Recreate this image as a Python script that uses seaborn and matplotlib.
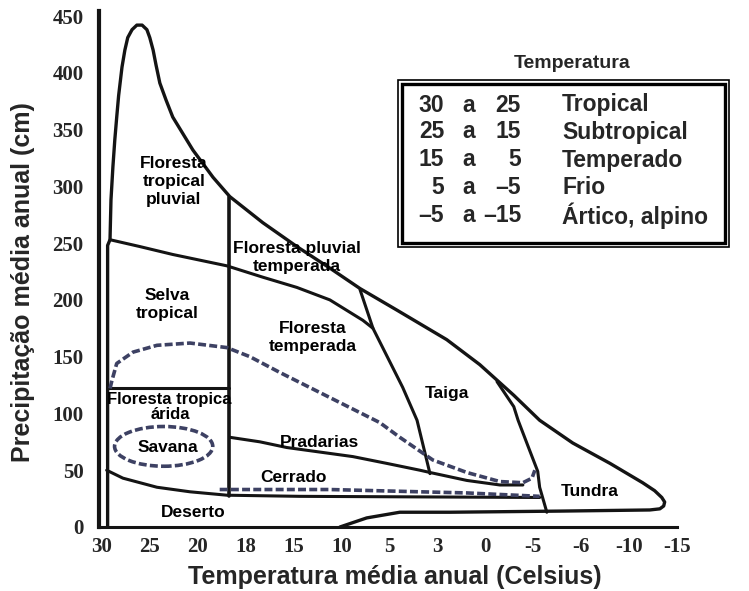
import matplotlib
matplotlib.use("Agg")
import matplotlib.pyplot as plt
from matplotlib.patches import Ellipse, Rectangle
import seaborn as sns

# x positions are category slots (0 -> 30 C ... 12 -> -15 C), y in cm
x_ticklabels = ['30', '25', '20', '18', '15', '10', '5', '3', '0', '-5', '-6', '-10', '-15']
y_ticks = [0, 50, 100, 150, 200, 250, 300, 350, 400, 450]

envelope_x = [0.12, 0.12, 0.17, 0.19, 0.23, 0.27, 0.31, 0.35, 0.42, 0.48, 0.54, 0.63, 0.73,
              0.84, 0.94, 1.00, 1.07, 1.13, 1.21, 1.34, 1.48, 1.90,
              2.32, 2.67, 3.36, 4.07, 4.76, 5.39, 6.16, 7.20, 7.89, 8.60, 9.14, 9.83, 10.61,
              11.29, 11.54, 11.69, 11.75, 11.73, 11.65, 11.44, 9.56, 7.27, 6.22, 5.53, 4.97]
envelope_y = [0, 248, 253, 288, 317, 341, 361, 380, 405, 420, 431, 438, 442,
              442, 438, 431, 420, 407, 391, 376, 361, 332,
              308, 291, 268, 247, 228, 210, 191, 165, 143, 116, 94, 74, 56,
              39, 32, 26, 22, 18.5, 16, 15, 14, 13, 13, 8, 0]

pluvial_x = [0.17, 0.79, 1.48, 2.61, 3.36, 4.07, 4.76, 5.45, 5.66]
pluvial_y = [253, 247, 240, 230, 220, 211, 200, 182, 175]

taiga_x = [5.39, 5.66, 5.97, 6.28, 6.58, 6.85]
taiga_y = [209, 175, 149, 123, 94, 47]

tundra_x = [8.25, 8.60, 8.69, 8.89, 9.10, 9.14, 9.29]
tundra_y = [128, 106, 94, 72, 49, 35, 13]

v18_x = [2.65, 2.65]
v18_y = [291, 27]

arida_x = [0.12, 2.65]
arida_y = [122, 122]

dash_upper_x = [0.17, 0.21, 0.31, 0.65, 1.15, 1.84, 2.61, 3.09, 3.72, 4.76, 5.80, 6.22, 6.91,
                7.62, 8.31, 8.79, 8.98, 9.04]
dash_upper_y = [122, 129, 144, 154, 160, 162, 158, 150, 136, 114, 92, 79, 59,
                48, 40, 39, 43, 50]

pradarias_x = [2.67, 3.30, 3.86, 5.24, 5.95, 6.64, 6.85, 7.62, 8.31, 8.79]
pradarias_y = [79, 75, 70, 62, 56, 50, 48, 41, 37, 37]

cerrado_x = [0.10, 0.44, 1.15, 1.84, 2.61, 4.13, 9.14]
cerrado_y = [50, 43, 35, 31, 28, 27, 26]

dash_lower_x = [2.46, 4.76, 6.64, 7.62, 9.14]
dash_lower_y = [33, 33, 31, 30, 27]

savana_center = (1.29, 71)
savana_size = (2.05, 35)

biome_labels = [
    ("Floresta\ntropical\npluvial", 1.50, 304, 12.5),
    ("Selva\ntropical", 1.36, 196, 12.5),
    ("Floresta tropica", 1.40, 112, 12),
    ("árida", 1.42, 99, 12),
    ("Savana", 1.38, 70, 12.5),
    ("Deserto", 1.90, 13, 12.5),
    ("Floresta pluvial\ntemperada", 4.07, 237, 12.5),
    ("Floresta\ntemperada", 4.40, 167, 12.5),
    ("Taiga", 7.20, 118, 12.5),
    ("Pradarias", 4.55, 74, 12.5),
    ("Cerrado", 3.99, 44, 12.5),
    ("Tundra", 10.19, 31, 12.5),
]

table_from = ['30', '25', '15', '5', '–5']
table_to = ['25', '15', '5', '–5', '–15']
table_names = ['Tropical', 'Subtropical', 'Temperado', 'Frio', 'Ártico, alpino']

sns.set_style("white")
plt.rcParams['font.family'] = ['Liberation Sans', 'DejaVu Sans']

W, H = 749, 591
fig = plt.figure(figsize=(W / 100, H / 100), dpi=100)
ax = fig.add_axes([99 / W, 0.1083, 592 / W, 0.8761])

line_c = '#141414'
dash_c = '#3d4163'

def solid(xs, ys, lw=2.2):
    sns.lineplot(x=xs, y=ys, sort=False, estimator=None, color=line_c, lw=lw, ax=ax)

def dashed(xs, ys):
    sns.lineplot(x=xs, y=ys, sort=False, estimator=None, color=dash_c, lw=2.6,
                 linestyle=(0, (2.2, 0.9)), ax=ax)

solid(envelope_x, envelope_y, 2.4)
solid(pluvial_x, pluvial_y)
solid(taiga_x, taiga_y)
solid(tundra_x, tundra_y)
solid(v18_x, v18_y, 2.6)
solid(arida_x, arida_y)
solid(pradarias_x, pradarias_y)
solid(cerrado_x, cerrado_y)
dashed(dash_upper_x, dash_upper_y)
dashed(dash_lower_x, dash_lower_y)

ax.add_patch(Ellipse(savana_center, savana_size[0], savana_size[1],
                     fill=False, edgecolor=dash_c, lw=2.6, linestyle=(0, (2.2, 0.9))))

for txt, x, y, fs in biome_labels:
    ax.text(x, y, txt, ha='center', va='center', fontsize=fs, fontweight='bold',
            linespacing=1.25, color='black')

ax.set_xlim(-0.06, 12.3)
ax.set_ylim(0, 456)
ax.set_xticks(range(len(x_ticklabels)))
ax.set_xticklabels(x_ticklabels)
ax.set_yticks(y_ticks)
ax.set_yticklabels([str(v) for v in y_ticks])
for lab in ax.get_xticklabels() + ax.get_yticklabels():
    lab.set_fontfamily('Liberation Serif')
    lab.set_fontweight('bold')
    lab.set_fontsize(15)
ax.tick_params(length=0)
ax.tick_params(axis='y', pad=11)
ax.tick_params(axis='x', pad=7)

for s in ['top', 'right']:
    ax.spines[s].set_visible(False)
ax.spines['left'].set_linewidth(3)
ax.spines['bottom'].set_linewidth(2.2)
ax.spines['left'].set_color(line_c)
ax.spines['bottom'].set_color(line_c)
ax.spines['left'].set_bounds(0, 454)
ax.spines['bottom'].set_bounds(-0.06, 12.0)

ax.set_xlabel('Temperatura média anual (Celsius)', fontsize=18, fontweight='bold', labelpad=6)
ax.set_ylabel('Precipitação média anual (cm)', fontsize=18, fontweight='bold')
ax.yaxis.set_label_coords(-0.108, 0.473)

# temperature table (figure pixel positions)
def fx(px):
    return px / W

def fy(py):
    return 1 - py / H

fig.text(fx(572), fy(63), 'Temperatura', ha='center', va='center', fontsize=14, fontweight='bold')
fig.add_artist(Rectangle((fx(398), fy(247)), fx(729) - fx(398), fy(80) - fy(247),
                         fill=False, lw=1.2, edgecolor='black', transform=fig.transFigure))
fig.add_artist(Rectangle((fx(402), fy(243)), fx(725) - fx(402), fy(84) - fy(243),
                         fill=False, lw=2.4, edgecolor='black', transform=fig.transFigure))
row_y = [105, 132, 160, 188, 216]
for a, b, name, ry in zip(table_from, table_to, table_names, row_y):
    fig.text(fx(444), fy(ry), a, ha='right', va='center', fontsize=16.5, fontweight='bold')
    fig.text(fx(469), fy(ry), 'a', ha='center', va='center', fontsize=16.5, fontweight='bold')
    fig.text(fx(521), fy(ry), b, ha='right', va='center', fontsize=16.5, fontweight='bold')
    fig.text(fx(562), fy(ry), name, ha='left', va='center', fontsize=16.5, fontweight='bold')

fig.savefig('out.png', dpi=100, facecolor='white')
